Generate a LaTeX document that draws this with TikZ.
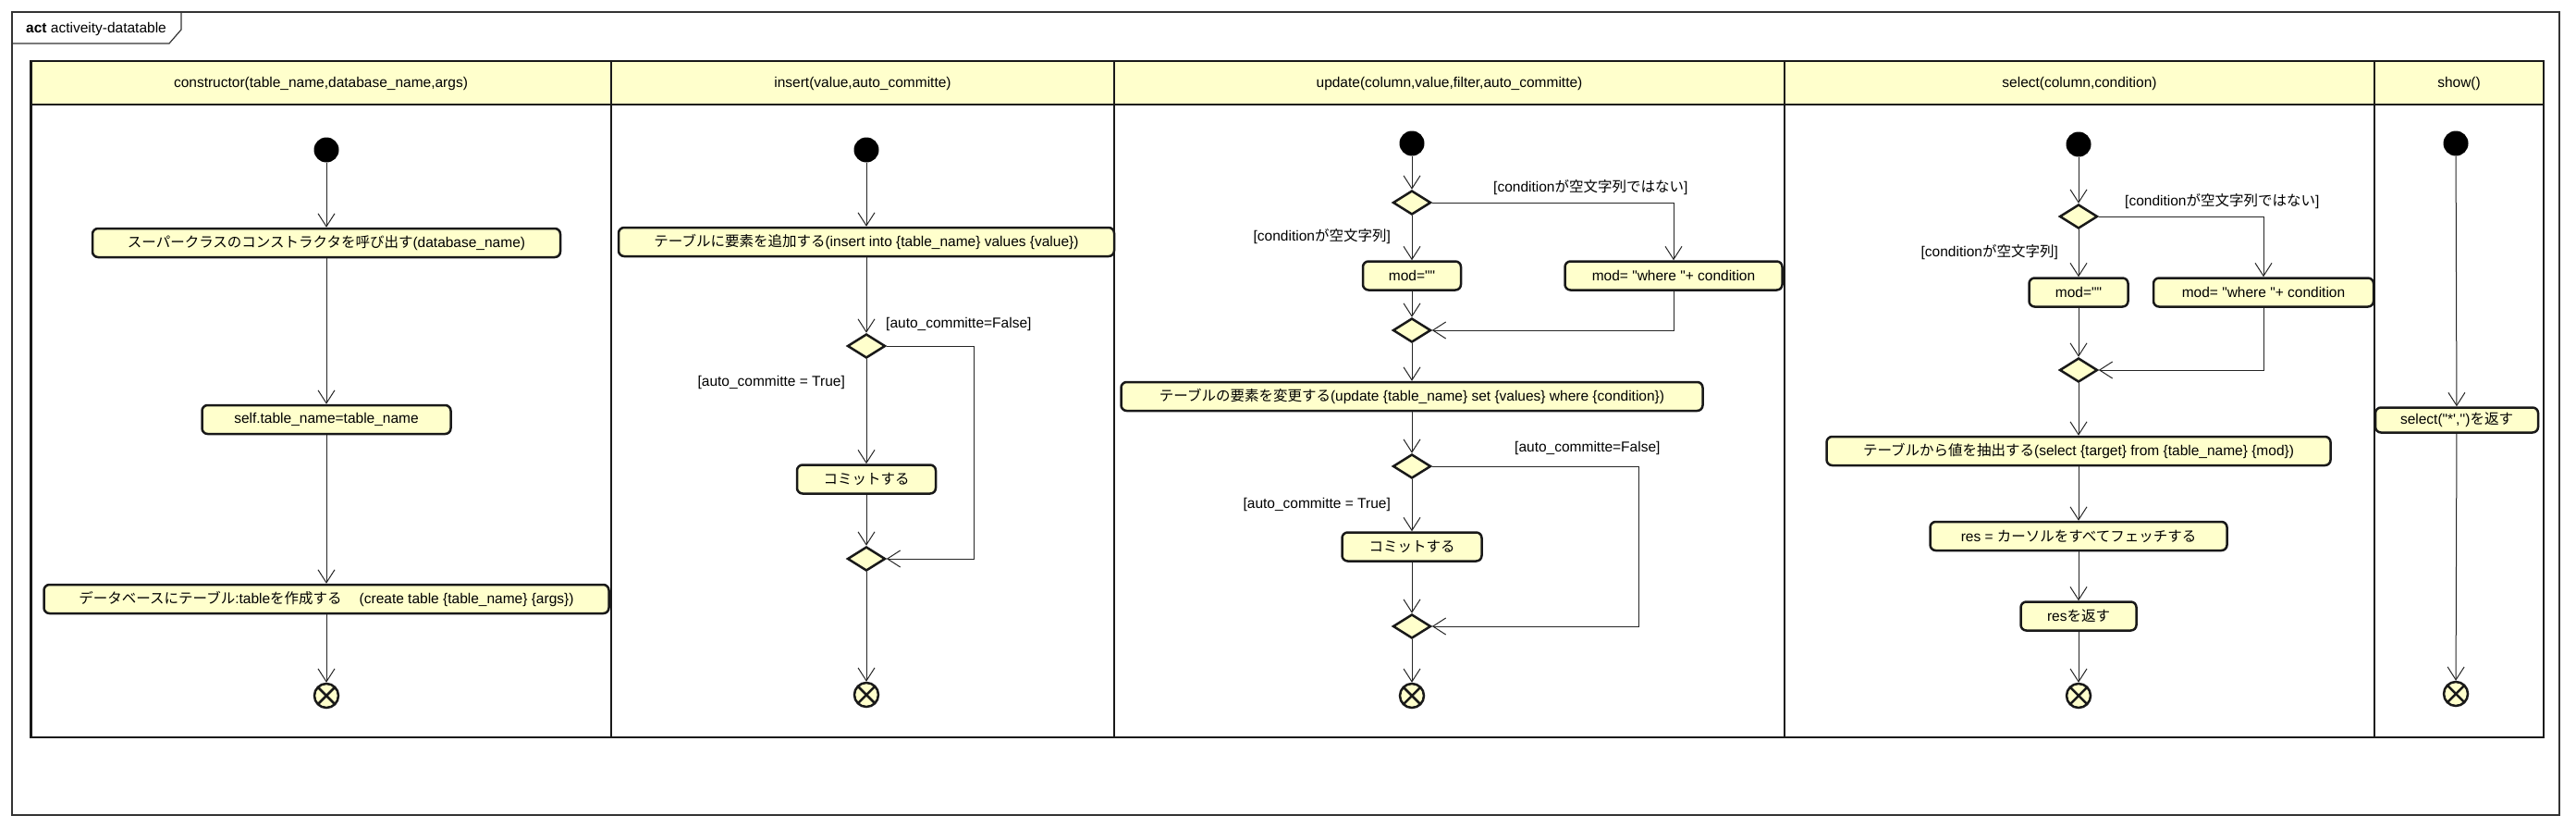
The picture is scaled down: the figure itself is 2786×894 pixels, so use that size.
\documentclass[tikz,border=0pt]{standalone}
\usepackage{fontspec}
\setmainfont{Liberation Sans}[Ligatures=TeXOff]
\newfontfamily\jpfont{Noto Sans CJK JP}
\usepackage{tikz}
\usetikzlibrary{arrows.meta,shapes.geometric,positioning}

\definecolor{boxgelb}{RGB}{255,255,204}
\newcommand{\ja}[1]{{\jpfont #1}}

\tikzset{
	aktion/.style={draw=black!90, fill=boxgelb, line width=2.5pt, rounded corners=6pt, minimum height=31pt, inner sep=0pt},
	entscheid/.style={diamond, draw=black!90, fill=boxgelb, line width=2.5pt, minimum width=41pt, minimum height=26pt, inner sep=0pt},
	startpunkt/.style={circle, fill=black, minimum size=27pt, inner sep=0pt},
	endpunkt/.style={circle, draw=black!90, fill=boxgelb, line width=2.5pt, minimum size=26pt, inner sep=0pt,
		path picture={\draw[line width=2.5pt, black!90] (path picture bounding box.south west) -- (path picture bounding box.north east)
			(path picture bounding box.north west) -- (path picture bounding box.south east);}},
	fluss/.style={-{Straight Barb[length=14pt,width=18pt]}, line width=1pt, draw=black!85},
	waechter/.style={inner sep=0pt}
}

\begin{document}
\begin{tikzpicture}[x=1pt, y=-1pt, font=\fontsize{15.5}{18}\selectfont]

	\path[fill=white, use as bounding box] (0,0) rectangle (2786,894);

	%Rahmen
	\draw[line width=1.2pt, black!80] (13,13) rectangle (2768,881);
	\draw[line width=1.2pt, black!80] (13,47) -- (183,47) -- (196,32) -- (196,13);
	\node[anchor=west, waechter] (titel) at (28,31) {\textbf{act} activeity-datatable};

	%Bahnen
	\fill[boxgelb] (33.5,66) rectangle (2751,113);
	\draw[line width=2.5pt, black!90] (33.5,66) rectangle (2751,797);
	\draw[line width=2.5pt, black!90] (33.5,113) -- (2751,113);
	\foreach \bx in {661,1205,1930,2568}
		\draw[line width=2.5pt, black!90] (\bx,66) -- (\bx,797);

	\node (k1) at (347,90) {constructor(table\_name,database\_name,args)};
	\node (k2) at (933,90) {insert(value,auto\_committe)};
	\node (k3) at (1567.5,90) {update(column,value,filter,auto\_committe)};
	\node (k4) at (2249,90) {select(column,condition)};
	\node (k5) at (2659.5,90) {show()};

	%constructor
	\node[startpunkt] (s1) at (353,162) {};
	\node[aktion, minimum width=506pt] (a11) at (353,262.5) {\ja{スーパークラスのコンストラクタを呼び出す}(database\_name)};
	\node[aktion, minimum width=269pt] (a12) at (353,453.5) {self.table\_name=table\_name};
	\node[aktion, minimum width=611pt] (a13) at (353,647.5) {\ja{データベースにテーブル}:table\ja{を作成する}\hspace{19pt}(create table \{table\_name\} \{args\})};
	\node[endpunkt] (e1) at (353,752) {};

	\draw[fluss] (s1) -- (a11);
	\draw[fluss] (a11) -- (a12);
	\draw[fluss] (a12) -- (a13);
	\draw[fluss] (a13) -- (e1);

	%insert
	\node[startpunkt] (s2) at (937,162) {};
	\node[aktion, minimum width=536pt] (a21) at (937,261.5) {\ja{テーブルに要素を追加する}(insert into \{table\_name\} values \{value\})};
	\node[entscheid] (d21) at (937,374) {};
	\node[aktion, minimum width=150pt] (a22) at (937,518) {\ja{コミットする}};
	\node[entscheid] (m21) at (937,604) {};
	\node[endpunkt] (e2) at (937,751) {};
	\coordinate (r2) at (1053,0);
	\node[waechter, anchor=west] (g21) at (958,350) {[auto\_committe=False]};
	\node[waechter, anchor=east] (g22) at (914,413) {[auto\_committe = True]};

	\draw[fluss] (s2) -- (a21);
	\draw[fluss] (a21) -- (d21);
	\draw[fluss] (d21) -- (a22);
	\draw[fluss] (a22) -- (m21);
	\draw[fluss] (d21.east) -- (d21.east -| r2) -- (m21.east -| r2) -- (m21.east);
	\draw[fluss] (m21) -- (e2);

	%update
	\node[startpunkt] (s3) at (1527,155) {};
	\node[entscheid] (d31) at (1527,219) {};
	\node[aktion, minimum width=106pt] (a31) at (1527,298) {mod=""};
	\node[aktion, minimum width=235pt] (a32) at (1810,298) {mod= "where "+ condition};
	\node[entscheid] (m31) at (1527,357) {};
	\node[aktion, minimum width=629pt] (a33) at (1527,428.5) {\ja{テーブルの要素を変更する}(update \{table\_name\} set \{values\} where \{condition\})};
	\node[entscheid] (d32) at (1527,504) {};
	\node[aktion, minimum width=151pt] (a34) at (1527,591) {\ja{コミットする}};
	\node[entscheid] (m32) at (1527,677) {};
	\node[endpunkt] (e3) at (1527,752) {};
	\coordinate (r3) at (1772,0);
	\node[waechter, anchor=west] (g31) at (1615,203) {[condition\ja{が空文字列ではない}]};
	\node[waechter, anchor=east] (g32) at (1504,256) {[condition\ja{が空文字列}]};
	\node[waechter, anchor=west] (g33) at (1638,484) {[auto\_committe=False]};
	\node[waechter, anchor=east] (g34) at (1504,545) {[auto\_committe = True]};

	\draw[fluss] (s3) -- (d31);
	\draw[fluss] (d31) -- (a31);
	\draw[fluss] (d31.east) -| (a32.north);
	\draw[fluss] (a31) -- (m31);
	\draw[fluss] (a32.south) |- (m31.east);
	\draw[fluss] (m31) -- (a33);
	\draw[fluss] (a33) -- (d32);
	\draw[fluss] (d32) -- (a34);
	\draw[fluss] (a34) -- (m32);
	\draw[fluss] (d32.east) -- (d32.east -| r3) -- (m32.east -| r3) -- (m32.east);
	\draw[fluss] (m32) -- (e3);

	%select
	\node[startpunkt] (s4) at (2248,156) {};
	\node[entscheid] (d41) at (2248,234) {};
	\node[aktion, minimum width=107pt] (a41) at (2248,316) {mod=""};
	\node[aktion, minimum width=238pt] (a42) at (2448,316) {mod= "where "+ condition};
	\node[entscheid] (m41) at (2248,400) {};
	\node[aktion, minimum width=545pt] (a43) at (2248,487.5) {\ja{テーブルから値を抽出する}(select \{target\} from \{table\_name\} \{mod\})};
	\node[aktion, minimum width=321pt] (a44) at (2248,579.5) {res = \ja{カーソルをすべてフェッチする}};
	\node[aktion, minimum width=125pt] (a45) at (2248,666) {res\ja{を返す}};
	\node[endpunkt] (e4) at (2248,752) {};
	\node[waechter, anchor=west] (g41) at (2298,218) {[condition\ja{が空文字列ではない}]};
	\node[waechter, anchor=east] (g42) at (2226,273) {[condition\ja{が空文字列}]};

	\draw[fluss] (s4) -- (d41);
	\draw[fluss] (d41) -- (a41);
	\draw[fluss] (d41.east) -| (a42.north);
	\draw[fluss] (a41) -- (m41);
	\draw[fluss] (a42.south) |- (m41.east);
	\draw[fluss] (m41) -- (a43);
	\draw[fluss] (a43) -- (a44);
	\draw[fluss] (a44) -- (a45);
	\draw[fluss] (a45) -- (e4);

	%show
	\node[startpunkt] (s5) at (2656,155) {};
	\node[aktion, minimum width=176pt, minimum height=27pt] (a51) at (2657,454) {select("*','')\ja{を返す}};
	\node[endpunkt] (e5) at (2656,750) {};

	\draw[fluss] (s5) -- (a51);
	\draw[fluss] (a51) -- (e5);

\end{tikzpicture}
\end{document}
